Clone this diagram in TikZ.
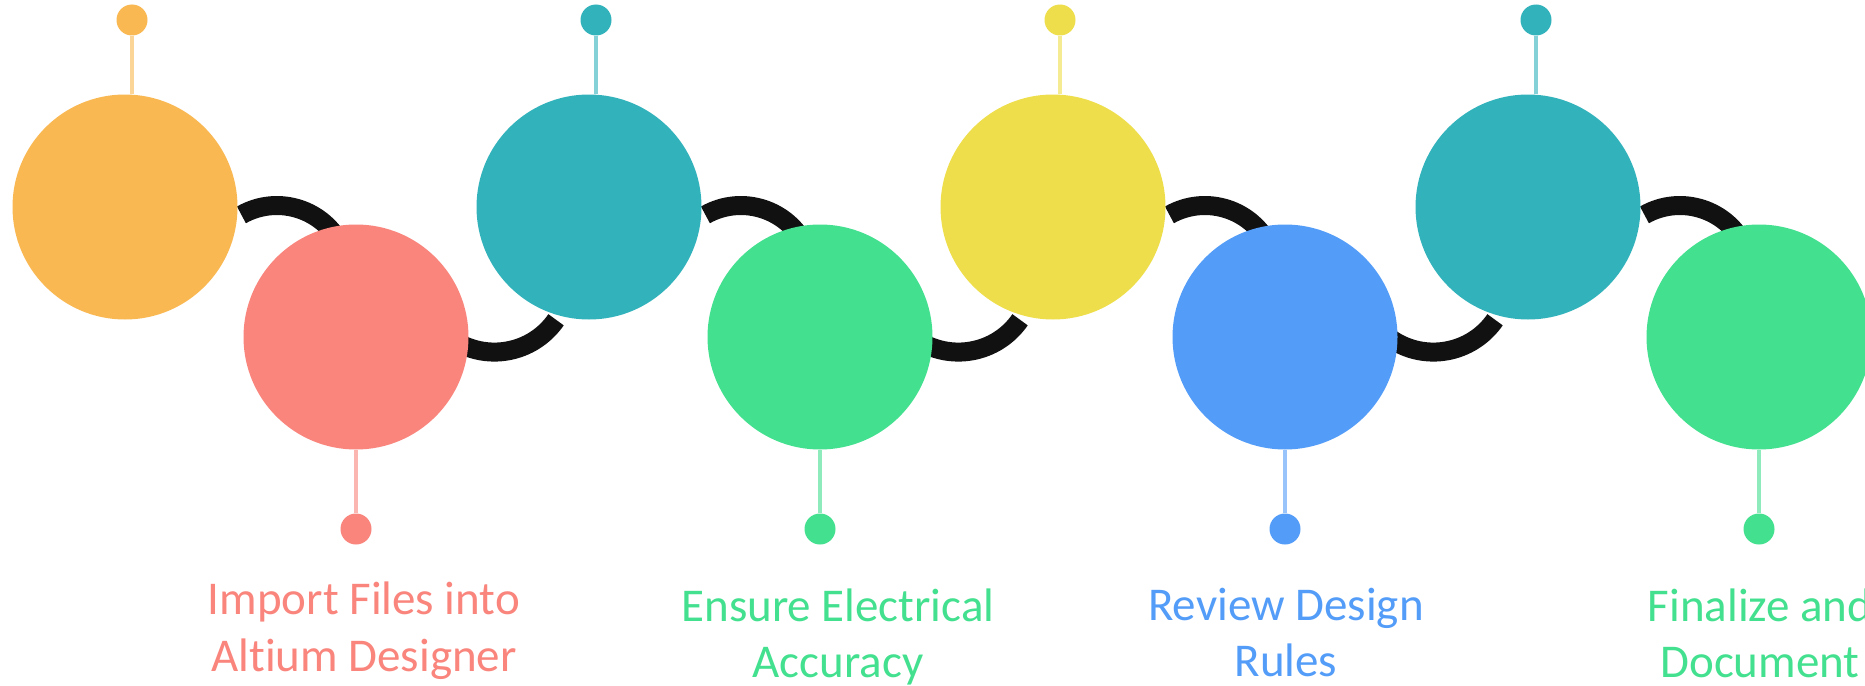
\documentclass[tikz,border=0pt]{standalone}
\usepackage{fontspec}
\setmainfont{Carlito}[Ligatures=NoCommon]
\definecolor{orangeC}{HTML}{F9B852}
\definecolor{redC}{HTML}{F9857D}
\definecolor{tealC}{HTML}{32B3BC}
\definecolor{greenC}{HTML}{43E08F}
\definecolor{yellowC}{HTML}{EFDE4B}
\definecolor{blueC}{HTML}{539DF9}
\definecolor{linkC}{HTML}{111111}
\pgfdeclarelayer{under}
\pgfsetlayers{under,main}
\begin{document}
\begin{tikzpicture}[x=1pt,y=-1pt,
  disc/.style={circle,fill=#1,draw=none,minimum size=225pt,inner sep=0pt},
  pin/.style={circle,fill=#1,draw=none,minimum size=31pt,inner sep=0pt},
  stem/.style={draw=#1!60!white,line width=4pt},
  link/.style={draw=linkC,line width=19pt,line cap=butt},
  lbl/.style={text=#1,font=\fontsize{47}{56}\selectfont,anchor=base,inner sep=0pt}
]
\useasboundingbox (0,0) rectangle (1865,685);

% step circles: upper row and lower row
\path
  node[disc=orangeC] (s1) at (125,207) {}
  node[disc=redC]    (s2) at (356,337) {}
  node[disc=tealC]   (s3) at (589,207) {}
  node[disc=greenC]  (s4) at (820,337) {}
  node[disc=yellowC] (s5) at (1053,207) {}
  node[disc=blueC]   (s6) at (1285,337) {}
  node[disc=tealC]   (s7) at (1528,207) {}
  node[disc=greenC]  (s8) at (1759,337) {};

% small end dots above and below
\path
  node[pin=orangeC] (p1) at (132,20) {}
  node[pin=tealC]   (p3) at (596,20) {}
  node[pin=yellowC] (p5) at (1060,20) {}
  node[pin=tealC]   (p7) at (1536,20) {}
  node[pin=redC]    (q2) at (356,529) {}
  node[pin=greenC]  (q4) at (820,529) {}
  node[pin=blueC]   (q6) at (1285,529) {}
  node[pin=greenC]  (q8) at (1759,529) {};

\begin{pgfonlayer}{under}
  \fill[white] (0,0) rectangle (1865,685);
  % stems
  \draw[stem=orangeC] (p1) -- (p1 |- s1.north);
  \draw[stem=tealC]   (p3) -- (p3 |- s3.north);
  \draw[stem=yellowC] (p5) -- (p5 |- s5.north);
  \draw[stem=tealC]   (p7) -- (p7 |- s7.north);
  \draw[stem=redC]    (s2.south) -- (q2);
  \draw[stem=greenC]  (s4.south) -- (q4);
  \draw[stem=blueC]   (s6.south) -- (q6);
  \draw[stem=greenC]  (s8.south) -- (q8);
  % black links between neighbouring circles
  \foreach \a in {s1,s3,s5,s7}{
    \draw[link] ([xshift=4pt]\a.-4) arc[start angle=-119.5,end angle=0,radius=72];
  }
  \foreach \a in {s3,s5,s7}{
    \draw[link] ([yshift=-5pt]\a.-107) arc[start angle=34.7,end angle=180,radius=75];
  }
\end{pgfonlayer}

% labels
\node[lbl=redC]   (l2a) at (364,614) {Import Files into};
\node[lbl=redC]   (l2b) at (364,671) {Altium Designer};
\node[lbl=greenC] (l4a) at (838,621) {Ensure Electrical};
\node[lbl=greenC] (l4b) at (838,677) {Accuracy};
\node[lbl=blueC]  (l6a) at (1286,620) {Review Design};
\node[lbl=blueC]  (l6b) at (1286,676) {Rules};
\node[lbl=greenC] (l8a) at (1760,621) {Finalize and};
\node[lbl=greenC] (l8b) at (1760,677) {Document};
\end{tikzpicture}
\end{document}
